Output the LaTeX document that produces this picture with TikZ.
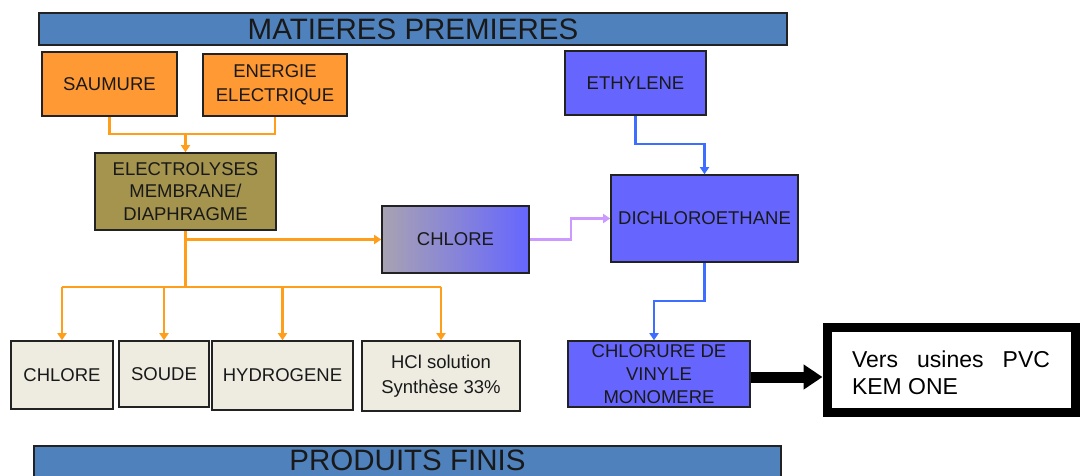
\documentclass[tikz,border=0pt]{standalone}
\usepackage{fontspec}
\setmainfont{Liberation Sans}
\usetikzlibrary{arrows.meta,calc}
\definecolor{bannerblue}{HTML}{4F81BD}
\definecolor{boxorange}{HTML}{FF9933}
\definecolor{boxolive}{HTML}{A4944E}
\definecolor{boxblue}{HTML}{6666FF}
\definecolor{boxlight}{HTML}{EEECE1}
\definecolor{chlgrey}{HTML}{A8A2B2}
\definecolor{lineorange}{HTML}{FF9E1A}
\definecolor{lineblue}{HTML}{3D6EFF}
\definecolor{linepurple}{HTML}{CC99FF}
\definecolor{edge}{HTML}{222222}
\begin{document}
\begin{tikzpicture}[x=1pt,y=-1pt,
  box/.style={draw=edge,line width=1.6pt,inner sep=0pt,align=center,
    text=black!90,font=\fontsize{18.5pt}{24pt}\selectfont},
  banner/.style={box,fill=bannerblue,minimum height=32pt,
    font=\fontsize{29.5pt}{30pt}\selectfont},
  orangebox/.style={box,fill=boxorange},
  olivebox/.style={box,fill=boxolive},
  bluebox/.style={box,fill=boxblue},
  lightbox/.style={box,fill=boxlight},
  tip/.style={-{Triangle[width=9pt,length=7pt]}},
  oline/.style={draw=lineorange,line width=2.6pt},
  bline/.style={draw=lineblue,line width=2.6pt},
  pline/.style={draw=linepurple,line width=2.6pt},
]
\useasboundingbox (0,0) rectangle (1081,475);
\clip (0,0) rectangle (1081,475);

% banners
\node[banner,minimum width=748pt] (mp) at (413,29) {MATIERES PREMIERES};
\node[banner,minimum width=747pt,text depth=3pt] (pf) at (407.5,462) {PRODUITS FINIS};

% raw materials
\node[orangebox,minimum width=135pt,minimum height=64pt] (saumure) at (109.5,84) {SAUMURE};
\node[orangebox,minimum width=144pt,minimum height=62pt] (energie) at (275,85) {ENERGIE\\ELECTRIQUE};
\node[olivebox,minimum width=181pt,minimum height=77pt,font=\fontsize{18.5pt}{22.5pt}\selectfont] (elec) at (185.5,191.5) {ELECTROLYSES\\MEMBRANE/\\DIAPHRAGME};
\node[box,left color=chlgrey,right color=boxblue,minimum width=147pt,minimum height=67pt] (chlore) at (455.5,239.5) {CHLORE};
\node[bluebox,minimum width=141pt,minimum height=64pt] (ethylene) at (635.5,83) {ETHYLENE};
\node[bluebox,minimum width=187pt,minimum height=87pt] (dichloro) at (704.5,218.5) {DICHLOROETHANE};
\node[bluebox,minimum width=182pt,minimum height=66pt,font=\fontsize{18.5pt}{23pt}\selectfont] (cvm) at (659,374) {CHLORURE DE\\VINYLE\\MONOMERE};
\node[draw=black,line width=9pt,fill=white,minimum width=248pt,minimum height=85pt,
  text width=198pt,text height=22.5pt,align=justify,inner sep=0pt,font=\fontsize{23pt}{27pt}\selectfont] (vers) at (951,370)
  {Vers usines PVC KEM ONE};

% finished products
\node[lightbox,minimum width=102pt,minimum height=68pt] (chlore2) at (62,375) {CHLORE};
\node[lightbox,minimum width=90pt,minimum height=66pt] (soude) at (164,374) {SOUDE};
\node[lightbox,minimum width=141pt,minimum height=69pt] (hydro) at (282.5,375.5) {HYDROGENE};
\node[lightbox,minimum width=158pt,minimum height=70pt,font=\fontsize{18.5pt}{25pt}\selectfont] (hcl) at (441,376) {HCl solution\\Synthèse 33\%};

% orange connectors
\draw[oline] (saumure.south) -- ++(0,17) coordinate (j1) -| (energie.south);
\coordinate (j2) at (elec.north |- j1);
\draw[oline,tip] (j2) -- (elec.north);
\draw[oline] (elec.south) -- ++(0,56) coordinate (j3);
\coordinate (j4) at (elec.south |- chlore.west);
\draw[oline,tip] (j4) -- (chlore.west);
\draw[oline] (chlore2.north |- j3) -- (hcl.north |- j3);
\foreach \n in {chlore2,soude,hydro,hcl}
  \draw[oline,tip] (\n.north |- j3) -- (\n.north);

% purple connector
\draw[pline,tip] (chlore.east) -- ++(41,0) |- (dichloro.west);

% blue connectors
\draw[bline,tip] (ethylene.south) -- ++(0,28) -| (dichloro.north);
\draw[bline,tip] (dichloro.south) -- ++(0,38) -| ($(cvm.north)+(-5,0)$);

% black thick arrow
\draw[line width=11pt,-{Triangle[width=24pt,length=19pt]}] ($(cvm.east)+(0,3)$) -- ($(vers.west)+(0,7)$);
\end{tikzpicture}
\end{document}
